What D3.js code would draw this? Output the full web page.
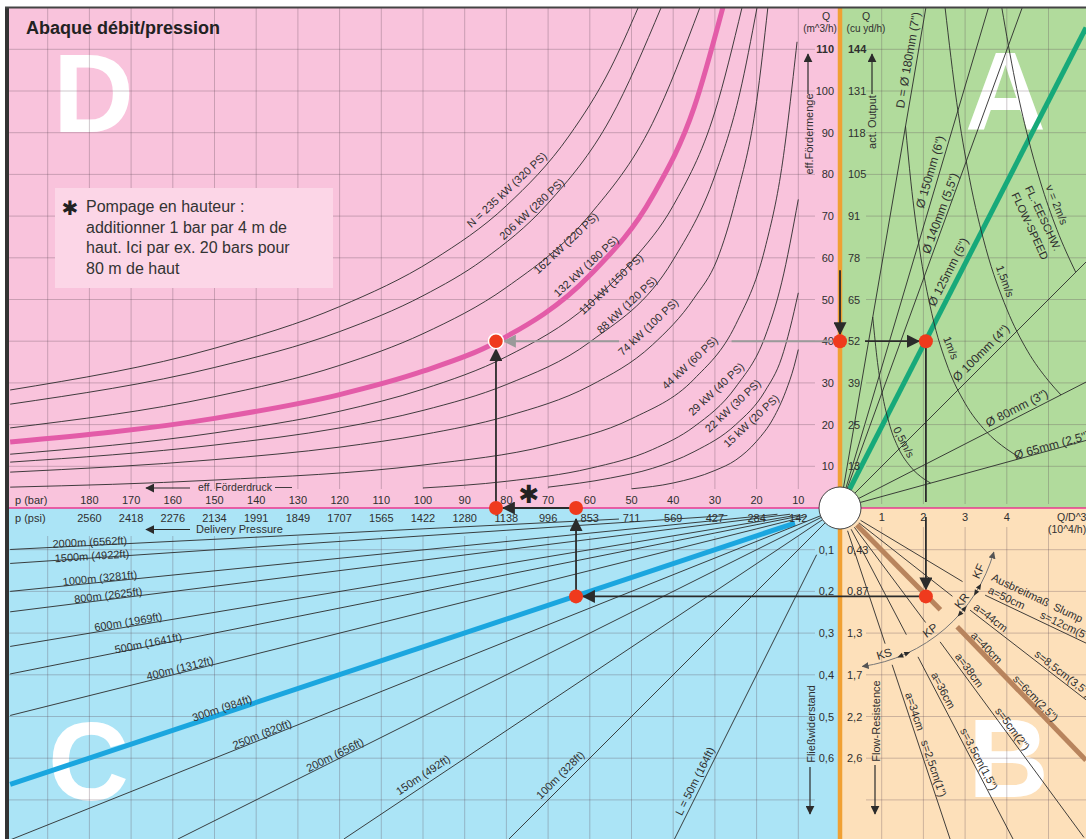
<!DOCTYPE html>
<html><head><meta charset="utf-8">
<script src="https://d3js.org/d3.v7.min.js"></script>
<style>
html,body{margin:0;padding:0;background:#fff;}
svg{display:block;}
text{font-family:"Liberation Sans",Arial,Helvetica,sans-serif;fill:#2f2f2f;}
</style></head><body>
<svg id="chart" width="1086" height="839"></svg>
<script>
// ================= DATA =================
const pressureBar = [10,20,30,40,50,60,70,80,90,100,110,120,130,140,150,160,170,180];
const pressurePsi = ["142","284","427","569","711","853","996","1138","1280","1422","1565","1707","1849","1991","2134","2276","2418","2560"];
const outputM3 = [10,20,30,40,50,60,70,80,90,100,110];
const outputYd3 = ["13","25","39","52","65","78","91","105","118","131","144"];
const qdTicks = [1,2,3,4];
const resistTicks = [0.1,0.2,0.3,0.4,0.5,0.6];
const resistLeft = ["0,1","0,2","0,3","0,4","0,5","0,6"];
const resistRight = ["0,43","0,87","1,3","1,7","2,2","2,6"];

// Quadrant D : power curves, points [p (bar), Q (m3/h)]
const powerLabels = ["N = 235 kW (320 PS)","206 kW (280 PS)","162 kW (220 PS)","132 kW (180 PS)","110 kW (150 PS)","88 kW (120 PS)","74 kW (100 PS)","44 kW (60 PS)","29 kW (40 PS)","22 kW (30 PS)","15 kW (20 PS)"];
const powerCurves = [
  [[199,28.3],[150,38.3],[120,48.3],[97.6,59.5],[80,72.5],[65,89.2],[55,105.5],[48.4,120]],
  [[199,24.9],[150,33.7],[120,42.3],[100,50.9],[85.6,59.5],[70,73.1],[55,93.5],[42.9,120]],
  [[199,19.2],[150,26.7],[120,34.2],[100,41.8],[80,52.9],[60,70.3],[45,92.2],[33.6,120]],
  [[199,15.8],[150,21.5],[120,27.2],[100,32.8],[82,40],[60,55.8],[45,74.7],[35,96],[28.1,120]],
  [[199,12.9],[150,18],[120,23.2],[100,28.5],[80,36.3],[60,49],[49.6,59.5],[40,72.5],[30,95],[23.5,120]],
  [[199,11],[150,15.1],[120,19.2],[100,23.4],[80,29.6],[60,39.8],[40,59.5],[30,79.7],[24,99.6],[19.9,120]],
  [[199,8.6],[150,11.6],[120,14.6],[100,17.6],[80,22],[60,29.3],[45,39.1],[35,50.3],[29.5,59.5],[25,74],[20,97.5],[17.3,120]],
  [[199,5.0],[150,6.7],[100,10.3],[70,15],[50,21.4],[35,30.9],[25,44],[18,62.2],[14,81.4],[10.3,111.8]],
  [[100,4.8],[80,6.4],[60,9.5],[45,14],[35,19.5],[25,29],[18,41],[14,54],[10,74]],
  [[70,5],[55,7.2],[45,9.5],[35,13.5],[25,20],[18,28],[14,36],[12,43],[10,51.6]],
  [[50,4.6],[40,6],[30,9],[25,11.5],[20,16],[16,21.5],[13,28],[11,34],[10,38]]
];
const selectedPower = 3; // 132 kW (pink)

// Quadrant A : pipe diameters, end points [Q/D^3 (10^4/h), Q]
const diameterLabels = ["D = Ø 180mm (7\")","Ø 150mm (6\")","Ø 140mm (5,5\")","Ø 125mm (5\")","Ø 100mm (4\")","Ø 80mm (3\")","Ø 65mm (2,5\")"];
const diameterEnds = [[2.06,120],[3.56,120],[4.37,120],[5.9,115.2],[5.9,59],[5.9,30.2],[5.9,16.2]];
const selectedDiameter = 3; // 125 mm (green)
// flow speed curves, points [Q/D^3, Q]
const speedLabels = ["0,5m/s","1m/s","1,5m/s","v = 2m/s"];
const speedCurves = [
  [[0.785,45.8],[0.9,34.9],[1.0,28.2],[1.2,19.6],[1.4,14.4],[1.7,9.8],[2.0,7.06],[2.17,6.0]],
  [[1.57,91.6],[1.7,78.2],[1.9,62.6],[2.2,46.7],[2.6,33.4],[3.0,25.1],[3.5,18.4],[4.0,14.1],[4.35,11.9]],
  [[2.52,120],[2.8,97.2],[3.1,79.3],[3.5,62.2],[4.0,47.7],[4.5,37.6],[5.0,30.5],[5.3,27.1]],
  [[3.88,120],[4.2,102.4],[4.5,89.2],[4.8,78.4],[5.2,66.8],[5.65,56.6]]
];

// Quadrant C : pipe lengths, inner and outer points [p (bar), resistance]
const lengthLabels = ["2000m (6562ft)","1500m (4922ft)","1000m (3281ft)","800m (2625ft)","600m (1969ft)","500m (1641ft)","400m (1312ft)","300m (984ft)","250m (820ft)","200m (656ft)","150m (492ft)","100m (328ft)","L = 50m (164ft)"];
const lengthInner = [[53,0.0265],[27,0.018],[15,0.015],[12,0.015],[10,0.0167],[9,0.018],[8,0.02],[10.8,0.036],[0,0],[0,0],[0,0],[0,0],[5.6,0.112]];
const lengthOuter = [[199,0.0995],[199,0.133],[199,0.2],[199,0.249],[199,0.332],[199,0.398],[199,0.4975],[199,0.663],[199,0.796],[158.8,0.794],[119,0.794],[79.4,0.794],[39.7,0.794]];
const selectedLength = 7; // 300 m (blue)

// Quadrant B : slump lines, outer segments [Q/D^3, resistance] (inner parts run toward the origin)
const spreadLabels = ["a=50cm","a=44cm","a=40cm","a=38cm","a=36cm","a=34cm"];
const slumpLabels = ["s=12cm(5\")","s=8,5cm(3,5\")","s=6cm(2,5\")","s=5cm(2\")","s=3,5cm(1,5\")","s=2,5cm(1\")"];
const slumpStart = [[3.48,0.209],[3.12,0.245],[2.81,0.285],[2.40,0.321],[1.87,0.357],[1.25,0.376]];
const slumpEnd = [[5.9,0.324],[5.9,0.46],[5.9,0.605],[5.85,0.79],[4.15,0.794],[2.64,0.794]];
const selectedSlump = 2; // a=40cm (brown)
const consistencyZones = ["KF","KR","KP","KS"];

// worked example
const exampleQ = 40, exampleQD = 2.06, exampleRes = 0.212, examplePLine = 63.3, examplePPump = 82.5;

// ================= LAYOUT =================
const svg = d3.select("#chart");
const xP = d3.scaleLinear().domain([0,200]).range([840,6]);
const yQ = d3.scaleLinear().domain([0,120]).range([508,7.6]);
const xX = d3.scaleLinear().domain([0,6]).range([840,1090.2]);
const yR = d3.scaleLinear().domain([0,0.8]).range([508,841.6]);
const OX = xP(0), OY = yQ(0);
const INK = "#2b2b2b";

const defs = svg.append("defs");
function marker(id,size,color,orient){
  defs.append("marker").attr("id",id).attr("viewBox","0 0 12 12").attr("refX",11).attr("refY",6)
    .attr("markerWidth",size).attr("markerHeight",size).attr("markerUnits","userSpaceOnUse")
    .attr("orient",orient||"auto").append("path").attr("d","M0,0L12,6L0,12Z").attr("fill",color);
}
marker("ah",13,INK); marker("ahg",13,"#9a9a9a"); marker("ahs",9,INK); marker("aha",7,"#555","auto-start-reverse");
function clip(id,x,y,w,h){defs.append("clipPath").attr("id",id).append("rect").attr("x",x).attr("y",y).attr("width",w).attr("height",h);}
clip("cD",9,8,831,500); clip("cA",840,8,246,500); clip("cC",9,508,831,331); clip("cB",840,508,246,331);

// backgrounds
svg.append("rect").attr("x",9).attr("y",8).attr("width",831).attr("height",500).attr("fill","#f9c3dc");
svg.append("rect").attr("x",840).attr("y",8).attr("width",246).attr("height",500).attr("fill","#b1db9c");
svg.append("rect").attr("x",9).attr("y",508).attr("width",831).attr("height",331).attr("fill","#abe4f6");
svg.append("rect").attr("x",840).attr("y",508).attr("width",246).attr("height",331).attr("fill","#fde0ba");

// big letters
[["D",53,132],["A",965,130],["C",48,800],["B",968,797]].forEach(([t,x,y])=>{
  svg.append("text").attr("x",x).attr("y",y).text(t).attr("font-size",112).attr("font-weight",900)
    .style("fill","#fff");
});

// grid
const grid = svg.append("g").attr("stroke","#5d4a55").attr("stroke-opacity",0.38).attr("stroke-width",0.8);
const pGrid = d3.range(10,200,10), qGrid = d3.range(10,120,10), xGrid = [1,2,3,4,5], rGrid = [0.1,0.2,0.3,0.4,0.5,0.6,0.7];
pGrid.forEach(p=>{grid.append("line").attr("x1",xP(p)).attr("x2",xP(p)).attr("y1",8).attr("y2",489);
  grid.append("line").attr("x1",xP(p)).attr("x2",xP(p)).attr("y1",536).attr("y2",839);});
qGrid.forEach(q=>{grid.append("line").attr("x1",9).attr("x2",815).attr("y1",yQ(q)).attr("y2",yQ(q));
  grid.append("line").attr("x1",866).attr("x2",1086).attr("y1",yQ(q)).attr("y2",yQ(q));});
xGrid.forEach(v=>{grid.append("line").attr("x1",xX(v)).attr("x2",xX(v)).attr("y1",8).attr("y2",504);
  grid.append("line").attr("x1",xX(v)).attr("x2",xX(v)).attr("y1",527).attr("y2",839);});
rGrid.forEach(r=>{grid.append("line").attr("x1",9).attr("x2",815).attr("y1",yR(r)).attr("y2",yR(r));
  grid.append("line").attr("x1",866).attr("x2",1086).attr("y1",yR(r)).attr("y2",yR(r));});

// ---------- D : power curves ----------
const gD = svg.append("g").attr("clip-path","url(#cD)");
const lineD = d3.line().x(d=>xP(d[0])).y(d=>yQ(d[1])).curve(d3.curveMonotoneX);
powerCurves.forEach((c,i)=>{
  gD.append("path").attr("d",lineD(c)).attr("fill","none")
    .attr("stroke", i===selectedPower?"#e35ca8":INK).attr("stroke-width", i===selectedPower?5:0.9);
});
const dLabelAt = [[79.9,76.3],[73.9,71.7],[65.7,63.5],[60.9,58.0],[54.9,53.7],[51.1,48.7],[46.0,43.4],[36.0,34.8],[29.7,28.5],[25.7,24.5],[21.3,20.9]];
powerLabels.forEach((t,i)=>{
  const [p,q]=dLabelAt[i];
  svg.append("text").attr("transform",`translate(${xP(p)},${yQ(q)}) rotate(-43)`).attr("text-anchor","middle")
    .attr("dy","0.35em").attr("font-size",11).text(t);
});

// ---------- A : diameters and speeds ----------
const gA = svg.append("g").attr("clip-path","url(#cA)");
diameterEnds.forEach((e,i)=>{
  gA.append("line").attr("x1",OX).attr("y1",OY).attr("x2",xX(e[0])).attr("y2",yQ(e[1]))
    .attr("stroke", i===selectedDiameter?"#17a97a":INK).attr("stroke-width", i===selectedDiameter?5:0.9);
});
const lineA = d3.line().x(d=>xX(d[0])).y(d=>yQ(d[1])).curve(d3.curveMonotoneX);
speedCurves.forEach(c=>gA.append("path").attr("d",lineA(c)).attr("fill","none").attr("stroke",INK).attr("stroke-width",0.9));
const aLabelAt = [[1.63,107.4],[2.16,80.6],[2.4,70.7],[2.59,56.6],[3.38,37.2],[4.24,24],[5.08,15.1]];
const gAL = svg.append("g").attr("clip-path","url(#cA)");
diameterLabels.forEach((t,i)=>{
  const e=diameterEnds[i], ang=Math.atan2(yQ(e[1])-OY, xX(e[0])-OX)*180/Math.PI;
  gAL.append("text").attr("transform",`translate(${xX(aLabelAt[i][0])},${yQ(aLabelAt[i][1])}) rotate(${ang})`)
    .attr("text-anchor","middle").attr("dy","0.35em").attr("font-size",12).text(t);
});
const vLabelAt = [[1.53,15.8,62],[2.66,38.4,68],[3.96,54.4,70],[5.2,72.7,68]];
speedLabels.forEach((t,i)=>{
  const [x,q,a]=vLabelAt[i];
  gAL.append("text").attr("transform",`translate(${xX(x)},${yQ(q)}) rotate(${a})`).attr("text-anchor","middle")
    .attr("dy","0.35em").attr("font-size",11).text(t);
});
[["FL.-EESCHW.",4.87,69.5],["FLOW-SPEED",4.56,67.6]].forEach(([t,x,q])=>{
  gAL.append("text").attr("transform",`translate(${xX(x)},${yQ(q)}) rotate(65)`).attr("text-anchor","middle")
    .attr("dy","0.35em").attr("font-size",11).text(t);
});

// ---------- C : pipe lengths ----------
const gC = svg.append("g").attr("clip-path","url(#cC)");
lengthOuter.forEach((e,i)=>{
  const s=lengthInner[i];
  gC.append("line").attr("x1",xP(s[0])).attr("y1",yR(s[1])).attr("x2",xP(e[0])).attr("y2",yR(e[1]))
    .attr("stroke", i===selectedLength?"#1ba6df":INK).attr("stroke-width", i===selectedLength?5:0.9);
});
const cLabelAt = [[179.9,0.0815],[179.4,0.115],[177.5,0.168],[175.5,0.209],[170.7,0.273],[165.9,0.324],[158.3,0.384],[148.2,0.48],[138.6,0.542],[121.1,0.592],[100,0.64],[67.1,0.64],[34.8,0.655]];
lengthLabels.forEach((t,i)=>{
  const e=lengthOuter[i], ang=Math.atan2(OY-yR(e[1]), OX-xP(e[0]))*180/Math.PI;
  svg.append("text").attr("transform",`translate(${xP(cLabelAt[i][0])},${yR(cLabelAt[i][1])}) rotate(${ang})`)
    .attr("text-anchor","middle").attr("dy","0.35em").attr("font-size",11).text(t);
});

// ---------- B : slump lines ----------
const gB = svg.append("g").attr("clip-path","url(#cB)");
const gBL = svg.append("g").attr("clip-path","url(#cB)");
function segInfo(i){
  const sx=xX(slumpStart[i][0]), sy=yR(slumpStart[i][1]), ex=xX(slumpEnd[i][0]), ey=yR(slumpEnd[i][1]);
  const len=Math.hypot(ex-sx,ey-sy), ux=(ex-sx)/len, uy=(ey-sy)/len;
  return {sx,sy,ex,ey,ux,uy,ang:Math.atan2(uy,ux)*180/Math.PI};
}
function labelOnSeg(i,X,off,t,size){
  const s=segInfo(i), x=xX(X), k=(x-s.sx)/s.ux, px=s.sx+s.ux*k, py=s.sy+s.uy*k;
  gBL.append("text").attr("transform",`translate(${px+s.uy*off},${py-s.ux*off}) rotate(${s.ang})`)
    .attr("font-size",size||11).text(t);
}
slumpStart.forEach((st,i)=>{
  const s=segInfo(i), sel=i===selectedSlump;
  const d=Math.hypot(s.sx-OX,s.sy-OY), vx=(s.sx-OX)/d, vy=(s.sy-OY)/d;
  const col=sel?"#b8845d":INK, w=sel?5:0.9;
  gB.append("line").attr("x1",OX+vx*24).attr("y1",OY+vy*24).attr("x2",OX+vx*143).attr("y2",OY+vy*143)
    .attr("stroke",col).attr("stroke-width",w);
  gB.append("line").attr("x1",s.sx).attr("y1",s.sy).attr("x2",s.ex).attr("y2",s.ey)
    .attr("stroke",col).attr("stroke-width",w);
});
const aLabX = [3.50,3.14,3.07,2.69,2.11,1.49];
const sLabX = [4.75,4.60,4.08,3.65,2.81,1.87];
spreadLabels.forEach((t,i)=>{ labelOnSeg(i,aLabX[i],3,t); labelOnSeg(i,sLabX[i],3,slumpLabels[i]); });
labelOnSeg(0,3.45,16,"Ausbreitmaß",11);
labelOnSeg(0,4.93,16,"Slump",11);

// consistency arc
{
  const R=160, rad=d=>d*Math.PI/180;
  const a0=16, a1=82;
  const pth=d3.path(); pth.moveTo(OX+R*Math.cos(rad(a0)),OY+R*Math.sin(rad(a0))); pth.arc(OX,OY,R,rad(a0),rad(a1));
  svg.append("path").attr("d",pth.toString()).attr("fill","none").attr("stroke","#777").attr("stroke-width",1)
    .attr("marker-start","url(#aha)").attr("marker-end","url(#aha)");
  [30.7,40.2,66.5].forEach(a=>{
    const cx=OX+R*Math.cos(rad(a)), cy=OY+R*Math.sin(rad(a));
    svg.append("path").attr("transform",`translate(${cx},${cy}) rotate(${a+90})`)
      .attr("d","M-7,0L-1,-2.5L-1,2.5ZM7,0L1,-2.5L1,2.5Z").attr("fill",INK);
  });
  const zoneAt=[[24.5,152],[37.3,153],[53.6,152],[73.2,152.5]];
  consistencyZones.forEach((t,i)=>{
    const [a,r]=zoneAt[i];
    svg.append("text").attr("transform",`translate(${OX+r*Math.cos(rad(a))},${OY+r*Math.sin(rad(a))}) rotate(${a-90})`)
      .attr("text-anchor","middle").attr("dy","0.35em").attr("font-size",11.5).text(t);
  });
}

// separators and borders
svg.append("line").attr("x1",9).attr("x2",1086).attr("y1",OY).attr("y2",OY).attr("stroke","#e8398f").attr("stroke-width",1.5);
svg.append("line").attr("x1",OX).attr("x2",OX).attr("y1",8).attr("y2",839).attr("stroke","#f0a033").attr("stroke-width",4.5);
svg.append("rect").attr("x",5).attr("y",7).attr("width",4).attr("height",832).attr("fill","#333");
svg.append("rect").attr("x",5).attr("y",6.5).attr("width",1081).attr("height",2).attr("fill","#444");

// ---------- axis texts ----------
const fs=11;
svg.append("text").attr("x",15).attr("y",504).attr("font-size",fs).text("p (bar)");
svg.append("text").attr("x",15).attr("y",522).attr("font-size",fs).text("p (psi)");
pressureBar.forEach((p,i)=>{
  svg.append("text").attr("x",xP(p)).attr("y",504).attr("text-anchor","middle").attr("font-size",fs).text(p);
  svg.append("text").attr("x",xP(p)).attr("y",522).attr("text-anchor","middle").attr("font-size",fs).text(pressurePsi[i]);
});
outputM3.forEach((q,i)=>{
  svg.append("text").attr("x",834).attr("y",yQ(q)+4).attr("text-anchor","end").attr("font-size",fs)
    .attr("font-weight",q===110?"bold":null).text(q);
  svg.append("text").attr("x",848).attr("y",yQ(q)+4).attr("font-size",fs)
    .attr("font-weight",q===110?"bold":null).text(outputYd3[i]);
});
resistTicks.forEach((r,i)=>{
  svg.append("text").attr("x",834).attr("y",yR(r)+4).attr("text-anchor","end").attr("font-size",fs).text(resistLeft[i]);
  svg.append("text").attr("x",847).attr("y",yR(r)+4).attr("font-size",fs).text(resistRight[i]);
});
qdTicks.forEach(v=>svg.append("text").attr("x",xX(v)).attr("y",521).attr("text-anchor","middle").attr("font-size",fs).text(v));
svg.append("text").attr("x",1057).attr("y",521).attr("font-size",10.5).text("Q/D^3");
svg.append("text").attr("x",1048).attr("y",533).attr("font-size",10.5).text("(10^4/h)");
svg.append("text").attr("x",826).attr("y",20).attr("text-anchor","middle").attr("font-size",10.5).text("Q");
svg.append("text").attr("x",820).attr("y",32).attr("text-anchor","middle").attr("font-size",10).text("(m^3/h)");
svg.append("text").attr("x",866).attr("y",20).attr("text-anchor","middle").attr("font-size",10.5).text("Q");
svg.append("text").attr("x",866).attr("y",32).attr("text-anchor","middle").attr("font-size",10).text("(cu yd/h)");

function vlabel(t,x,y){svg.append("text").attr("transform",`translate(${x},${y}) rotate(-90)`).attr("text-anchor","middle").attr("font-size",11).text(t);}
function arrow(x1,y1,x2,y2,m,w,c){svg.append("line").attr("x1",x1).attr("y1",y1).attr("x2",x2).attr("y2",y2)
  .attr("stroke",c||INK).attr("stroke-width",w||1.2).attr("marker-end",`url(#${m||"ahs"})`);}
vlabel("eff.Fördermenge",813,134); arrow(808,94,808,54);
vlabel("act. Output",876,122); arrow(872,94,872,54);
vlabel("Fließwiderstand",815,724); arrow(810,767,810,814);
vlabel("Flow-Resistence",880,721); arrow(875,765,875,814);
svg.append("text").attr("x",198).attr("y",491).attr("font-size",10.5).text("eff. Förderdruck");
arrow(190,488,146,488);
svg.append("line").attr("x1",275).attr("x2",292).attr("y1",487.5).attr("y2",487.5).attr("stroke",INK).attr("stroke-width",0.9);
svg.append("text").attr("x",196).attr("y",533).attr("font-size",11).text("Delivery Pressure");
arrow(190,529.5,146,529.5);

// title and note
svg.append("text").attr("x",26).attr("y",34).attr("font-size",18).attr("font-weight","bold").style("fill","#222").text("Abaque débit/pression");
svg.append("rect").attr("x",55).attr("y",188).attr("width",278).attr("height",100).attr("fill","#fcd6e7");
svg.append("text").attr("x",70).attr("y",215).attr("text-anchor","middle").attr("font-size",20).attr("font-weight","bold")
  .style("font-family","DejaVu Sans").style("fill","#222").text("✱");
["Pompage en hauteur :","additionner 1 bar par 4 m de","haut. Ici par ex. 20 bars pour","80 m de haut"].forEach((t,i)=>{
  svg.append("text").attr("x",86).attr("y",212+i*20.7).attr("font-size",16).style("fill","#333").text(t);
});
svg.append("text").attr("x",529).attr("y",503).attr("text-anchor","middle").attr("font-size",25).attr("font-weight","bold")
  .style("font-family","DejaVu Sans").style("fill","#222").text("✱");

// ---------- worked example ----------
const ax=xX(exampleQD), qy=yQ(exampleQ), ry=yR(exampleRes), pl=xP(examplePLine), pp=xP(examplePPump);
svg.append("line").attr("x1",OX).attr("x2",xP(26)).attr("y1",qy).attr("y2",qy).attr("stroke","#9a9a9a").attr("stroke-width",2);
arrow(xP(53),qy,pp+8,qy,"ahg",2,"#9a9a9a");
arrow(OX,yQ(57),OX,qy-7,"ah",1.8);
arrow(865,qy,ax-7,qy,"ah",1.8);
svg.append("line").attr("x1",ax).attr("x2",ax).attr("y1",qy+6).attr("y2",502).attr("stroke",INK).attr("stroke-width",1.8);
arrow(ax,517,ax,ry-7,"ah",1.8);
arrow(ax-6,ry,pl+7,ry,"ah",1.8);
arrow(pl,ry-6,pl,519,"ah",1.8);
arrow(pl-7,OY,pp+7,OY,"ah",1.8);
arrow(pp,503,pp,qy+8,"ah",1.8);

svg.append("circle").attr("cx",OX).attr("cy",OY).attr("r",21).attr("fill","#fff").attr("stroke","#444").attr("stroke-width",1);

[[pp,qy,true],[OX,qy],[ax,qy],[pp,OY],[pl,OY],[pl,ry],[ax,ry]].forEach(([x,y,w])=>{
  svg.append("circle").attr("cx",x).attr("cy",y).attr("r",w?7.5:7).attr("fill","#ef3a1d")
    .attr("stroke",w?"#fff":"none").attr("stroke-width",w?1.5:0);
});
</script>
</body></html>
